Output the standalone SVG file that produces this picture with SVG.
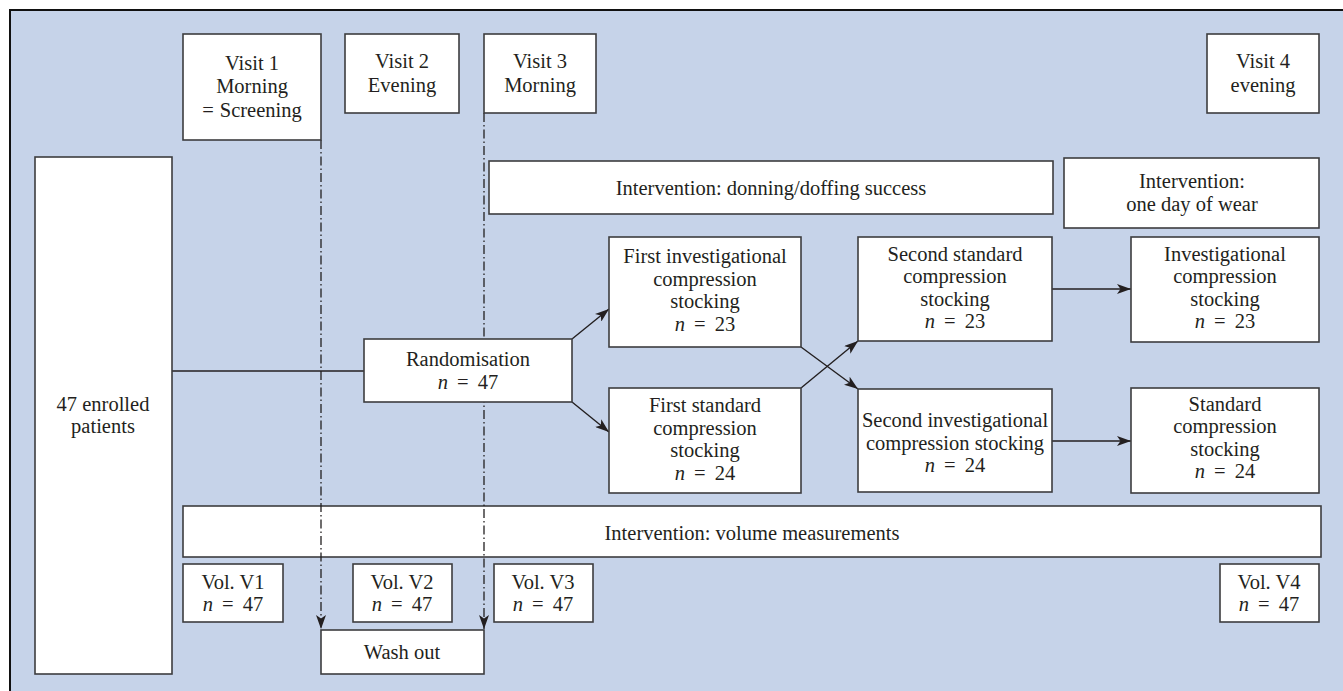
<svg xmlns="http://www.w3.org/2000/svg" width="1343" height="691" viewBox="0 0 1343 691">
<defs>
<style>
.box{fill:#ffffff;stroke:#3d3d3f;stroke-width:1.6}
.t{font-family:"Liberation Serif","Times New Roman",serif;font-size:20.5px;fill:#231f20;text-anchor:middle}
.i{font-style:italic}
.ln{stroke:#231f20;stroke-width:1.4;fill:none}
.dd{stroke:#231f20;stroke-width:1.3;fill:none;stroke-dasharray:9 3 1.5 3}
</style>
<marker id="ah" viewBox="0 0 14 10" refX="14" refY="5" markerWidth="14" markerHeight="10" markerUnits="userSpaceOnUse" orient="auto">
<path d="M0,0 L14,5 L0,10 L3.5,5 z" fill="#231f20"/>
</marker>
</defs>
<rect x="10" y="10" width="1333" height="681" fill="#c6d3e9"/>
<path d="M10,691 V10 H1343" stroke="#111" stroke-width="2" fill="none"/>

<g id="n-volume"><rect class="box" x="183" y="506" width="1138" height="51"/><text class="t" x="752" y="540">Intervention: volume measurements</text></g>

<g id="connectors">
<path class="dd" d="M321,140 V629" marker-end="url(#ah)"/>
<path class="dd" d="M484,113 V629" marker-end="url(#ah)"/>
<path class="ln" d="M172,371 H364"/>
<path class="ln" d="M572,339 L609,309" marker-end="url(#ah)"/>
<path class="ln" d="M572,402 L609,432" marker-end="url(#ah)"/>
<path class="ln" d="M801,347 L858,389" marker-end="url(#ah)"/>
<path class="ln" d="M801,388 L858,341" marker-end="url(#ah)"/>
<path class="ln" d="M1052,289 H1131" marker-end="url(#ah)"/>
<path class="ln" d="M1052,441 H1131" marker-end="url(#ah)"/>
</g>

<g id="n-visit1"><rect class="box" x="183" y="34" width="138" height="106"/><text class="t" x="252" y="70">Visit 1</text><text class="t" x="252" y="93">Morning</text><text class="t" x="252" y="117">=<tspan dx="6">Screening</tspan></text></g>
<g id="n-visit2"><rect class="box" x="345" y="34" width="114" height="79"/><text class="t" x="402" y="68">Visit 2</text><text class="t" x="402" y="92">Evening</text></g>
<g id="n-visit3"><rect class="box" x="484" y="34" width="112" height="79"/><text class="t" x="540" y="68">Visit 3</text><text class="t" x="540" y="92">Morning</text></g>
<g id="n-visit4"><rect class="box" x="1207" y="34" width="112" height="79"/><text class="t" x="1263" y="68">Visit 4</text><text class="t" x="1263" y="92">evening</text></g>

<g id="n-enrolled"><rect class="box" x="35" y="157" width="137" height="517"/><text class="t" x="103" y="411">47 enrolled</text><text class="t" x="103" y="433">patients</text></g>

<g id="n-donning"><rect class="box" x="489" y="161" width="564" height="53"/><text class="t" x="771" y="195">Intervention: donning/doffing success</text></g>
<g id="n-wear"><rect class="box" x="1064" y="158" width="255" height="70"/><text class="t" x="1192" y="188">Intervention:</text><text class="t" x="1192" y="211">one day of wear</text></g>

<g id="n-rand"><rect class="box" x="364" y="339" width="208" height="63"/><text class="t" x="468" y="366">Randomisation</text><text class="t" x="468" y="389"><tspan class="i">n</tspan> <tspan dx="4">=</tspan> <tspan dx="4">47</tspan></text></g>

<g id="n-firstinv"><rect class="box" x="609" y="237" width="192" height="110"/><text class="t" x="705" y="263">First investigational</text><text class="t" x="705" y="286">compression</text><text class="t" x="705" y="308">stocking</text><text class="t" x="705" y="331"><tspan class="i">n</tspan> <tspan dx="4">=</tspan> <tspan dx="4">23</tspan></text></g>
<g id="n-firststd"><rect class="box" x="609" y="388" width="192" height="105"/><text class="t" x="705" y="412">First standard</text><text class="t" x="705" y="435">compression</text><text class="t" x="705" y="457">stocking</text><text class="t" x="705" y="480"><tspan class="i">n</tspan> <tspan dx="4">=</tspan> <tspan dx="4">24</tspan></text></g>

<g id="n-secondstd"><rect class="box" x="858" y="237" width="194" height="104"/><text class="t" x="955" y="261">Second standard</text><text class="t" x="955" y="283">compression</text><text class="t" x="955" y="306">stocking</text><text class="t" x="955" y="328"><tspan class="i">n</tspan> <tspan dx="4">=</tspan> <tspan dx="4">23</tspan></text></g>
<g id="n-secondinv"><rect class="box" x="858" y="389" width="194" height="103"/><text class="t" x="955" y="427">Second investigational</text><text class="t" x="955" y="450">compression stocking</text><text class="t" x="955" y="472"><tspan class="i">n</tspan> <tspan dx="4">=</tspan> <tspan dx="4">24</tspan></text></g>

<g id="n-inv"><rect class="box" x="1131" y="237" width="188" height="105"/><text class="t" x="1225" y="261">Investigational</text><text class="t" x="1225" y="283">compression</text><text class="t" x="1225" y="306">stocking</text><text class="t" x="1225" y="328"><tspan class="i">n</tspan> <tspan dx="4">=</tspan> <tspan dx="4">23</tspan></text></g>
<g id="n-std"><rect class="box" x="1131" y="388" width="188" height="105"/><text class="t" x="1225" y="411">Standard</text><text class="t" x="1225" y="433">compression</text><text class="t" x="1225" y="456">stocking</text><text class="t" x="1225" y="478"><tspan class="i">n</tspan> <tspan dx="4">=</tspan> <tspan dx="4">24</tspan></text></g>

<g id="n-v1"><rect class="box" x="183" y="564" width="100" height="58"/><text class="t" x="233" y="589">Vol. V1</text><text class="t" x="233" y="611"><tspan class="i">n</tspan> <tspan dx="4">=</tspan> <tspan dx="4">47</tspan></text></g>
<g id="n-v2"><rect class="box" x="353" y="564" width="99" height="58"/><text class="t" x="402" y="589">Vol. V2</text><text class="t" x="402" y="611"><tspan class="i">n</tspan> <tspan dx="4">=</tspan> <tspan dx="4">47</tspan></text></g>
<g id="n-v3"><rect class="box" x="494" y="564" width="99" height="58"/><text class="t" x="543" y="589">Vol. V3</text><text class="t" x="543" y="611"><tspan class="i">n</tspan> <tspan dx="4">=</tspan> <tspan dx="4">47</tspan></text></g>
<g id="n-v4"><rect class="box" x="1220" y="564" width="99" height="58"/><text class="t" x="1269" y="589">Vol. V4</text><text class="t" x="1269" y="611"><tspan class="i">n</tspan> <tspan dx="4">=</tspan> <tspan dx="4">47</tspan></text></g>

<g id="n-washout"><rect class="box" x="321" y="630" width="163" height="44"/><text class="t" x="402" y="659">Wash out</text></g>
</svg>
